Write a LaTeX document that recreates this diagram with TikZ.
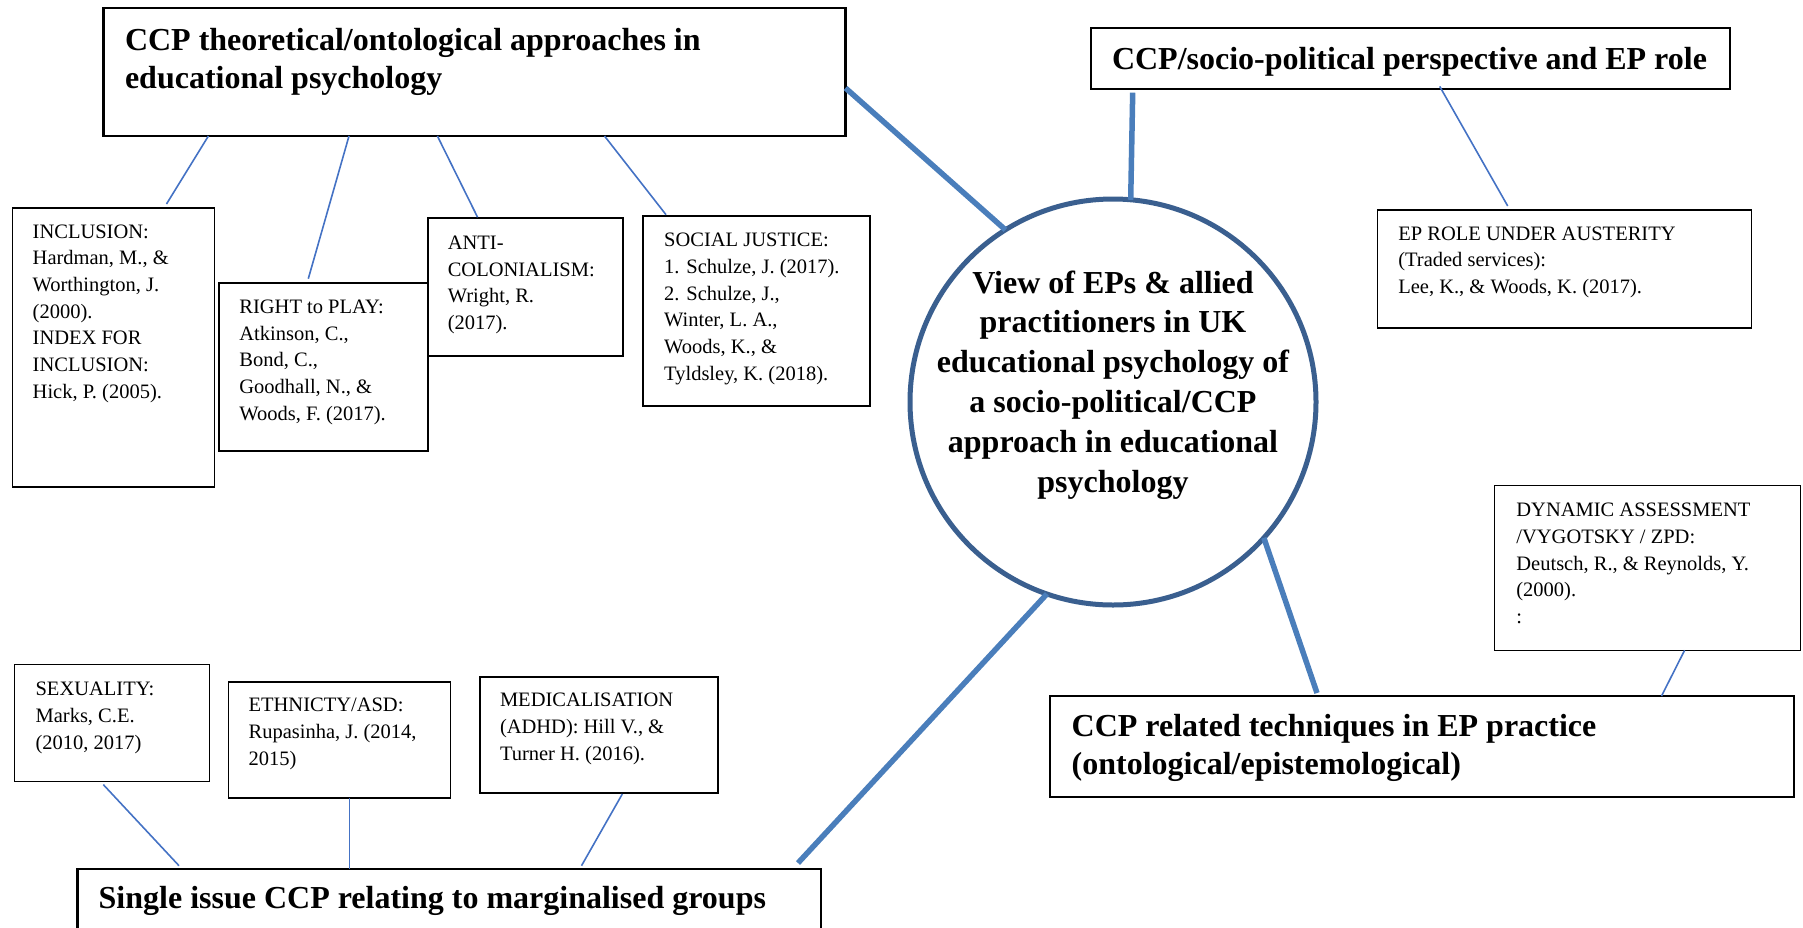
\documentclass[tikz,border=0pt]{standalone}
\usepackage{fontspec}
\setmainfont{Liberation Serif}
\usetikzlibrary{calc}

% text blocks: small references and bold headings
\newcommand{\reflines}[2]{\parbox[t]{#1pt}{\raggedright\fontsize{20.5}{26.7}\selectfont #2}}
\newcommand{\headlines}[2]{\parbox[t]{#1pt}{\raggedright\fontsize{32}{38.5}\selectfont\bfseries #2}}

\definecolor{thinblue}{HTML}{4472C4}
\definecolor{thickblue}{HTML}{4A7EBB}
\definecolor{ringblue}{HTML}{3A5F8F}

\tikzset{
  refbox/.style={draw=black, line width=1.6pt, rectangle, anchor=north west, inner sep=0pt, outer sep=0pt},
  headbox/.style={draw=black, line width=2.4pt, rectangle, anchor=north west, inner sep=0pt, outer sep=0pt},
  label/.style={anchor=base west, inner sep=0pt, outer sep=0pt},
  thinlink/.style={draw=thinblue, line width=1.6pt},
  thicklink/.style={draw=thickblue, line width=5.5pt},
}

\begin{document}
\begin{tikzpicture}[x=1pt, y=-1pt]
\useasboundingbox (0,0) rectangle (1803,927);

% central circle
\node[circle, draw=ringblue, line width=5pt, minimum size=406pt, inner sep=0pt, outer sep=0pt] (core) at (1113,402) {};
\node[anchor=base, inner sep=0pt] (coretext) at (1113,293)
  {\parbox[t]{400pt}{\centering\fontsize{32}{39.8}\selectfont\bfseries
   View of EPs \& allied\\ practitioners in UK\\ educational psychology of\\ a socio-political/CCP\\ approach in educational\\ psychology}};

% heading boxes
\node[headbox, minimum width=742pt, minimum height=128pt] (theo) at (103.5,8) {};
\node[label] (theotext) at (125,50) {\headlines{700}{CCP theoretical/ontological approaches in\\ educational psychology}};

\node[headbox, minimum width=639pt, minimum height=61pt] (pol) at (1091,27.7) {};
\node[label] (poltext) at (1112,69) {\headlines{620}{CCP/socio-political perspective and EP role}};

\node[headbox, minimum width=744pt, minimum height=101pt] (tech) at (1050,696) {};
\node[label] (techtext) at (1071.7,736) {\headlines{700}{CCP related techniques in EP practice\\ (ontological/epistemological)}};

\node[headbox, minimum width=743.5pt, minimum height=90pt] (single) at (77.5,869) {};
\node[label] (singletext) at (98.7,908) {\headlines{720}{Single issue CCP relating to marginalised groups}};

% reference boxes, upper left
\node[refbox, minimum width=202pt, minimum height=279pt] (incl) at (12.6,208) {};
\node[label] (incltext) at (32.7,238) {\reflines{180}{INCLUSION:\\ Hardman, M., \&\\ Worthington, J.\\ (2000).\\ INDEX FOR\\ INCLUSION:\\ Hick, P. (2005).}};

\node[refbox, minimum width=209pt, minimum height=168pt] (play) at (219,282.7) {};
\node[label] (playtext) at (239.4,313.3) {\reflines{185}{RIGHT to PLAY:\\ Atkinson, C.,\\ Bond, C.,\\ Goodhall, N., \&\\ Woods, F. (2017).}};

\node[refbox, minimum width=195pt, minimum height=138pt] (anti) at (427.7,218) {};
\node[label] (antitext) at (447.8,249.3) {\reflines{170}{ANTI-\\ COLONIALISM:\\ Wright, R.\\ (2017).}};

\node[refbox, minimum width=227pt, minimum height=190pt] (soc) at (643,216) {};
\node[label] (soctext) at (664.2,246.7) {\reflines{200}{SOCIAL JUSTICE:\\ 1. Schulze, J. (2017).\\ 2. Schulze, J.,\\ Winter, L. A.,\\ Woods, K., \&\\ Tyldsley, K. (2018).}};

% reference boxes, right
\node[refbox, minimum width=374pt, minimum height=118pt] (role) at (1377.5,210) {};
\node[label] (roletext) at (1398.3,240) {\reflines{350}{EP ROLE UNDER AUSTERITY\\ (Traded services):\\ Lee, K., \& Woods, K. (2017).}};

\node[refbox, minimum width=306pt, minimum height=165pt] (dyn) at (1494.5,485.3) {};
\node[label] (dyntext) at (1516.4,516.7) {\reflines{285}{DYNAMIC ASSESSMENT\\ /VYGOTSKY / ZPD:\\ Deutsch, R., \& Reynolds, Y.\\ (2000).\\ :}};

% reference boxes, lower left
\node[refbox, minimum width=195pt, minimum height=117pt] (sex) at (14.4,664.3) {};
\node[label] (sextext) at (35.6,695.7) {\reflines{170}{SEXUALITY:\\ Marks, C.E.\\ (2010, 2017)}};

\node[refbox, minimum width=222pt, minimum height=116pt] (eth) at (228.5,682) {};
\node[label] (ethtext) at (248.6,711.7) {\reflines{200}{ETHNICTY/ASD:\\ Rupasinha, J. (2014,\\ 2015)}};

\node[refbox, minimum width=238pt, minimum height=116pt] (med) at (480,676.7) {};
\node[label] (medtext) at (500,706.7) {\reflines{215}{MEDICALISATION\\ (ADHD): Hill V., \&\\ Turner H. (2016).}};

% links from the centre to the headings
\draw[thicklink] ([yshift=-16pt]theo.east) -- (core.122.4);
\draw[thicklink] ([xshift=41.7pt,yshift=-4pt]pol.south west) -- (core.85.4);
\draw[thicklink] (core.-42.6) -- ([xshift=267pt,yshift=3pt]tech.north west);
\draw[thicklink] (core.-109.4) -- ([xshift=720.5pt,yshift=6pt]single.north west);

% links from headings to references
\draw[thinlink] ([xshift=104.9pt]theo.south west) -- ([xshift=153.9pt,yshift=4pt]incl.north west);
\draw[thinlink] ([xshift=245.5pt]theo.south west) -- ([xshift=89.3pt,yshift=4pt]play.north west);
\draw[thinlink] ([xshift=333.9pt]theo.south west) -- ([xshift=49.9pt,yshift=0.7pt]anti.north west);
\draw[thinlink] ([xshift=501pt]theo.south west) -- ([xshift=23pt,yshift=1.3pt]soc.north west);

\draw[thinlink] ([xshift=348.7pt,yshift=2.3pt]pol.south west) -- ([xshift=130.2pt,yshift=4pt]role.north west);
\draw[thinlink] ([xshift=190.1pt]dyn.south west) -- ([xshift=611.5pt]tech.north west);

\draw[thinlink] ([xshift=88.9pt,yshift=-3.3pt]sex.south west) -- ([xshift=101.5pt,yshift=3.3pt]single.north west);
\draw[thinlink] ([xshift=121.1pt]eth.south west) -- ([xshift=272.1pt]single.north west);
\draw[thinlink] ([xshift=142.3pt,yshift=-1.3pt]med.south west) -- ([xshift=504pt,yshift=3.3pt]single.north west);
\end{tikzpicture}
\end{document}
